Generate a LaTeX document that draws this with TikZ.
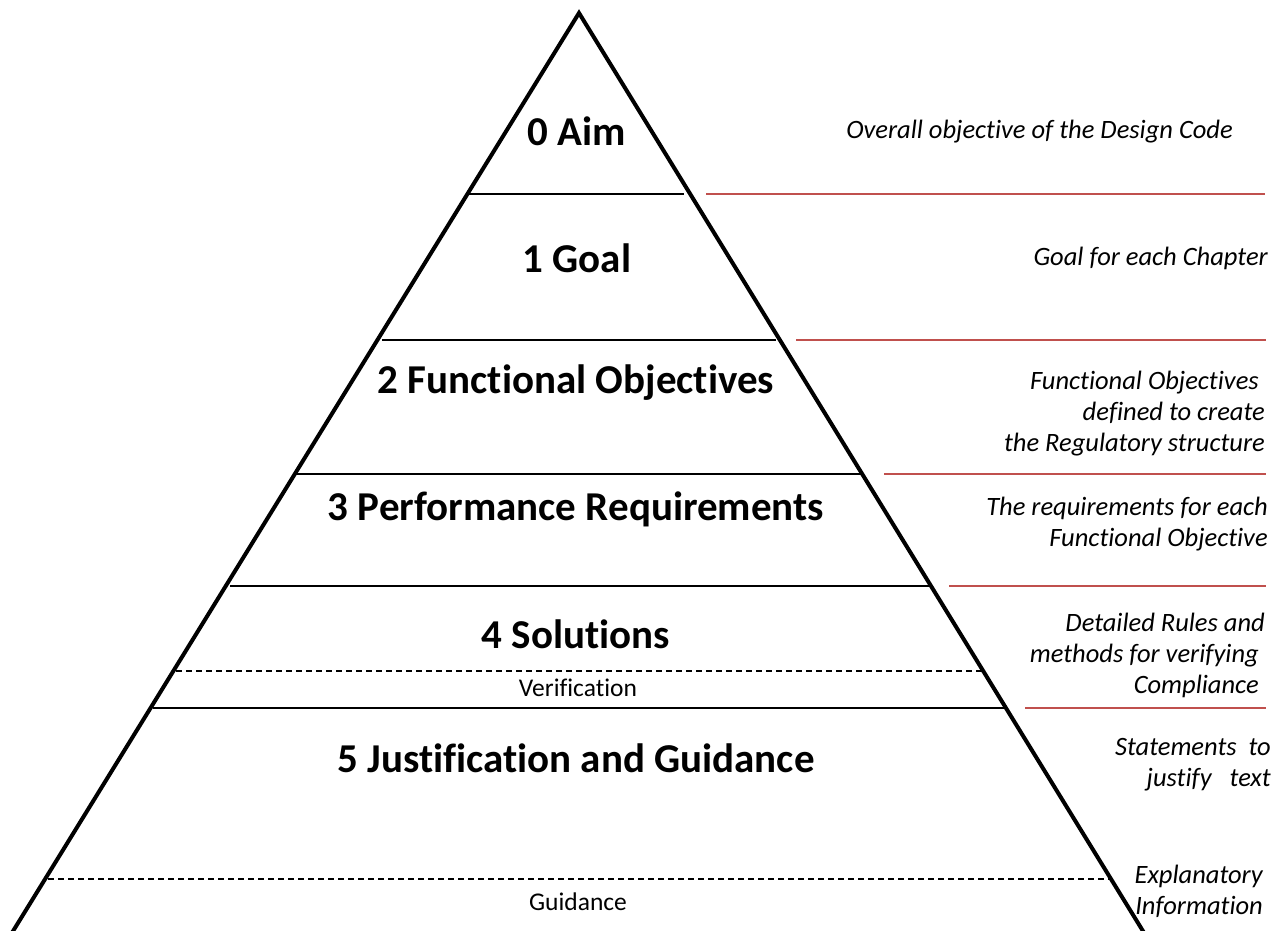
\documentclass[tikz,border=0pt]{standalone}
\usepackage{fontspec}
\setmainfont[Ligatures=NoCommon]{Carlito}
\definecolor{redline}{RGB}{192,80,77}
\begin{document}
\begin{tikzpicture}[x=1pt,y=-1pt,
  level/.style={font=\bfseries\fontsize{41}{46}\selectfont, inner sep=0pt},
  small/.style={font=\fontsize{25.5}{30}\selectfont, inner sep=0pt},
  note/.style={font=\itshape\fontsize{26.5}{31}\selectfont, inner sep=0pt, align=right, anchor=east},
  tier/.style={line width=1.8pt},
  dashtier/.style={line width=1.5pt, dash pattern=on 6pt off 4pt},
  redsep/.style={redline, line width=1.8pt}]
\useasboundingbox (0,0) rectangle (1274,931);
\fill[white] (0,0) rectangle (1274,931);
% pyramid outline
\coordinate (apex) at (579,13);
\coordinate (bl) at (10,936);
\coordinate (br) at (1146,936);
\draw[line width=4pt, line join=miter] (bl) -- (apex) -- (br);
% tiers
\draw[tier] (467,194) -- (684,194);
\draw[tier] (382,340) -- (776,340);
\draw[tier] (296,474) -- (862,474);
\draw[tier] (230,586) -- (930,586);
\draw[dashtier] (176,671) -- (982,671);
\draw[tier, line width=2.4pt] (153,708) -- (1004,708);
\draw[dashtier] (48,879) -- (1112,879);
% red separators
\draw[redsep] (706,194) -- (1265,194);
\draw[redsep] (796,340) -- (1266,340);
\draw[redsep] (884,474) -- (1266,474);
\draw[redsep] (949,586) -- (1266,586);
\draw[redsep] (1025,708) -- (1266,708);
% pyramid labels
\node[level] (l0) at (577,131) {0 Aim};
\node[level] (l1) at (577,258) {1 Goal};
\node[level] (l2) at (576,383) {2 Functional Objectives};
\node[level] (l3) at (576,509) {3 Performance Requirements};
\node[level] (l4) at (576,634) {4 Solutions};
\node[small] (ver) at (578,688) {Verification};
\node[level] (l5) at (576,758) {5 Justification and Guidance};
\node[small] (gui) at (578,902) {Guidance};
% notes
\node[note] (n0) at (1233,132) {Overall objective of the Design Code};
\node[note] (n1) at (1268,258) {Goal for each Chapter};
\node[note] (n2) at (1265,414) {Functional Objectives\phantom{ }\\defined to create\\the Regulatory structure};
\node[note] (n3) at (1268,524) {The requirements for each\\Functional Objective};
\node[note] (n4) at (1265,655) {Detailed Rules and\\methods for verifying\phantom{ }\\Compliance\phantom{i}};
\node[note] (n5) at (1271,765) {Statements\ \ to\\justify\ \ \ text};
\node[note] (n6) at (1263,891) {Explanatory\\Information};
\end{tikzpicture}
\end{document}
